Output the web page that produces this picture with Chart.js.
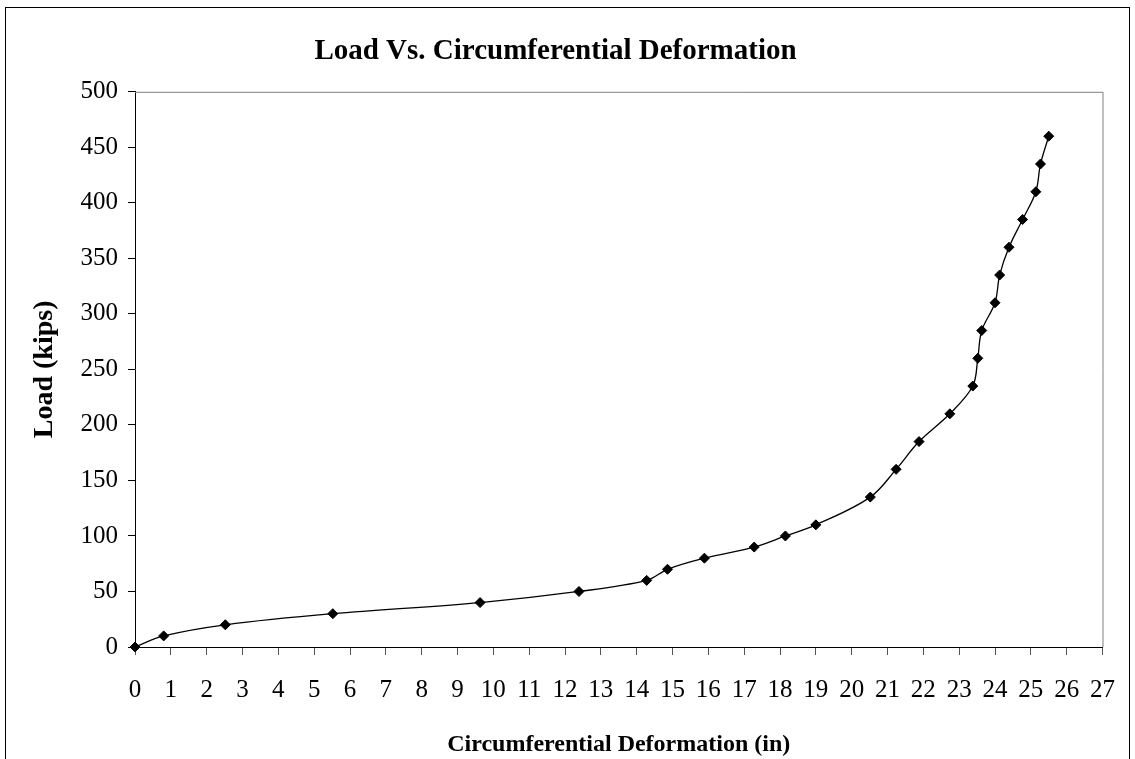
<!DOCTYPE html>
<html>
<head>
<meta charset="utf-8">
<title>Load Vs. Circumferential Deformation</title>
<script src="https://cdn.jsdelivr.net/npm/chart.js@4.4.1/dist/chart.umd.min.js"></script>
<style>
  html, body { margin: 0; padding: 0; background: #fff; overflow: hidden; }
  #wrap { width: 1135px; height: 759px; position: relative; }
</style>
</head>
<body>
<div id="wrap"><canvas id="loadChart"></canvas></div>
<script>
// deformation (in) and load (kips)
const deformation = [0, 0.8, 2.52, 5.52, 9.63, 12.39, 14.28, 14.86, 15.89, 17.28, 18.15, 19.0,
                     20.52, 21.24, 21.88, 22.74, 23.38, 23.52, 23.63, 24.0, 24.13, 24.39,
                     24.77, 25.14, 25.27, 25.5];
const load = [0, 10, 20, 30, 40, 50, 60, 70, 80, 90, 100, 110,
              135, 160, 185, 210, 235, 260, 285, 310, 335, 360,
              385, 410, 435, 460];

const xTickMax = 27;
const yTickMax = 500;
const yTickStep = 50;

const serif = 'Liberation Serif';

// white page + outer frame, gray top/right edge of the plot area
const framePlugin = {
    id: 'frame',
    beforeDraw(chart) {
        const ctx = chart.ctx;
        ctx.save();
        ctx.fillStyle = '#fff';
        ctx.fillRect(0, 0, chart.width, chart.height);
        ctx.strokeStyle = '#000';
        ctx.lineWidth = 1;
        ctx.strokeRect(5.5, 7.5, 1124, 780);
        ctx.restore();
    },
    beforeDatasetsDraw(chart) {
        const {ctx, chartArea: a} = chart;
        ctx.save();
        ctx.strokeStyle = '#808080';
        ctx.lineWidth = 1;
        ctx.beginPath();
        ctx.moveTo(a.left, a.top + 0.5);
        ctx.lineTo(a.right + 0.5, a.top + 0.5);
        ctx.lineTo(a.right + 0.5, a.bottom);
        ctx.stroke();
        ctx.restore();
    }
};

const points = deformation.map((x, i) => ({x: x, y: load[i]}));

new Chart(document.getElementById('loadChart'), {
    type: 'scatter',
    data: {
        datasets: [{
            data: points,
            showLine: true,
            clip: false,
            borderColor: '#000',
            borderWidth: 1.3,
            tension: 0.35,
            pointStyle: 'rectRot',
            pointRadius: 5,
            pointBackgroundColor: '#000',
            pointBorderColor: '#000',
            pointBorderWidth: 1
        }]
    },
    options: {
        responsive: true,
        maintainAspectRatio: false,
        animation: false,
        layout: { padding: { top: 7, left: 0, right: 24, bottom: 0 } },
        plugins: {
            legend: { display: false },
            tooltip: { enabled: false },
            title: {
                display: true,
                text: 'Load Vs. Circumferential Deformation',
                color: '#000',
                font: { family: serif, size: 29, weight: 'bold' },
                padding: { top: 27, bottom: 23 }
            }
        },
        scales: {
            x: {
                type: 'linear',
                min: 0,
                max: xTickMax,
                afterFit(scale) { scale.height = 112; },
                ticks: {
                    stepSize: 1,
                    color: '#000',
                    padding: 20,
                    maxRotation: 0,
                    autoSkip: false,
                    font: { family: serif, size: 25 }
                },
                grid: {
                    drawOnChartArea: false,
                    drawTicks: true,
                    tickLength: 8,
                    color: '#555'
                },
                border: { display: true, color: '#000', width: 1 },
                title: {
                    display: true,
                    text: 'Circumferential Deformation (in)',
                    color: '#000',
                    font: { family: serif, size: 24, weight: 'bold' },
                    padding: { top: 13, bottom: 0 }
                }
            },
            y: {
                type: 'linear',
                min: 0,
                max: yTickMax,
                afterFit(scale) { scale.width = 135; },
                ticks: {
                    stepSize: yTickStep,
                    color: '#000',
                    padding: 10,
                    font: { family: serif, size: 25 }
                },
                grid: {
                    drawOnChartArea: false,
                    drawTicks: true,
                    tickLength: 7,
                    color: '#000'
                },
                border: { display: true, color: '#000', width: 1 },
                title: {
                    display: true,
                    text: 'Load (kips)',
                    color: '#000',
                    font: { family: serif, size: 28, weight: 'bold' },
                    padding: { top: 28, bottom: 0 }
                }
            }
        }
    },
    plugins: [framePlugin]
});
</script>
</body>
</html>
